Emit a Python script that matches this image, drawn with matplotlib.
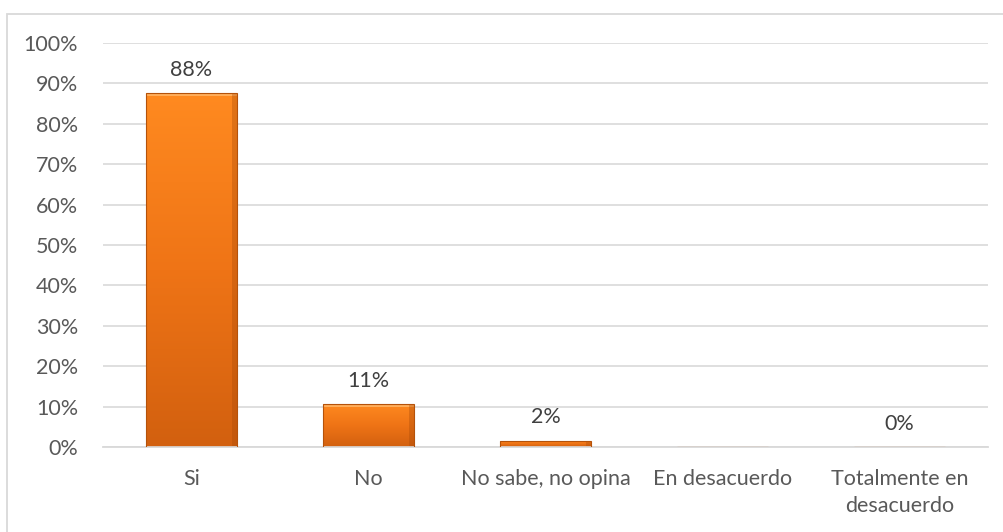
import numpy as np
import matplotlib.pyplot as plt
from matplotlib.patches import Rectangle
from matplotlib.colors import LinearSegmentedColormap

plt.rcParams['font.family'] = ['Lato', 'DejaVu Sans']

categorias = ['Si', 'No', 'No sabe, no opina', 'En desacuerdo', 'Totalmente en\ndesacuerdo']
valores = [0.876, 0.107, 0.016, 0.0, 0.0]
etiquetas = [True, True, True, False, True]

fig = plt.figure(figsize=(10.04, 5.32), dpi=100)
# marco exterior del grafico
fig.patches.append(Rectangle((7 / 1004, -0.1), 1.2, 1 - 13.5 / 532 + 0.1, transform=fig.transFigure,
                             fill=False, edgecolor='#d9d9d9', linewidth=1.3))
ax = fig.add_axes([103 / 1004, 1 - 447 / 532, (988 - 103) / 1004, (447 - 43) / 532])

x = np.arange(len(categorias))
ancho = 0.51
bars = ax.bar(x, valores, width=ancho, color='none', edgecolor='#b5520a', linewidth=0.8, zorder=3)

# degradado naranja dentro de cada barra
cmap = LinearSegmentedColormap.from_list('naranja', ['#d2600f', '#ef7416', '#ff8a20'])
grad = np.linspace(0, 1, 256).reshape(-1, 1)
for b in bars:
    h = b.get_height()
    if h <= 0:
        continue
    x0 = b.get_x()
    w = b.get_width()
    im = ax.imshow(grad, cmap=cmap, aspect='auto', origin='lower',
                   extent=(x0, x0 + w, 0, h), zorder=2)
    im.set_clip_path(b)
    # brillo superior y sombra lateral
    ax.add_patch(Rectangle((x0, h - min(0.008, h * 0.3)), w, min(0.008, h * 0.3),
                           facecolor='#ffad5a', edgecolor='none', zorder=2.5))
    ax.add_patch(Rectangle((x0 + w * 0.95, 0), w * 0.05, h,
                           facecolor='#a84a08', edgecolor='none', alpha=0.35, zorder=2.5))

for xi, v, lab in zip(x, valores, etiquetas):
    if lab:
        ax.annotate(f'{v:.0%}', (xi, v), xytext=(0, 9.5), textcoords='offset points',
                    ha='center', va='bottom', fontsize=15.5, color='#404040')

ax.set_xlim(-0.5, len(categorias) - 0.5)
ax.set_ylim(0, 1.0)
ax.set_yticks(np.arange(0, 1.01, 0.1))
ax.set_yticklabels([f'{t:.0%}' for t in np.arange(0, 1.01, 0.1)])
ax.set_xticks(x)
ax.set_xticklabels(categorias)
for t in ax.get_xticklabels():
    t.set_linespacing(1.4)
ax.tick_params(axis='both', length=0, labelsize=15.5, labelcolor='#595959')
ax.tick_params(axis='y', pad=18)
ax.tick_params(axis='x', pad=16)
ax.grid(axis='y', color='#d9d9d9', linewidth=1.2, zorder=0)
for s in ['top', 'right', 'left']:
    ax.spines[s].set_visible(False)
ax.spines['bottom'].set_color('#d9d9d9')
ax.spines['bottom'].set_linewidth(1.3)
ax.set_axisbelow(True)

fig.savefig('out.png', dpi=100)
